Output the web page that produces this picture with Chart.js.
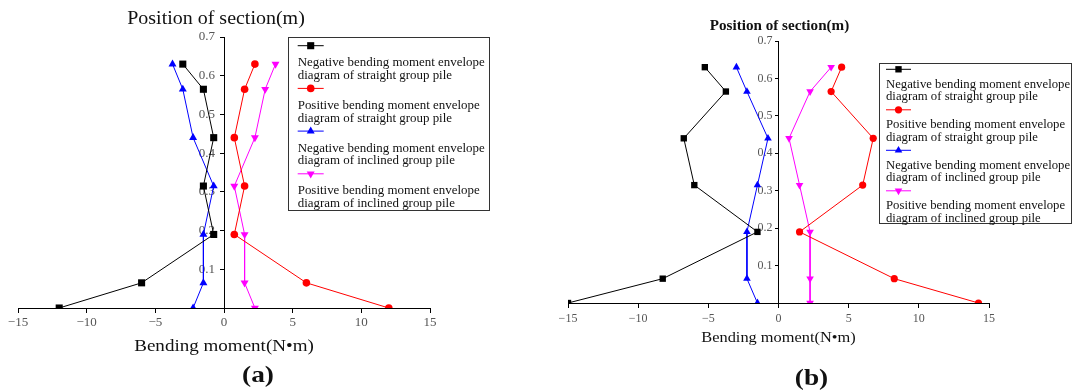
<!DOCTYPE html>
<html>
<head>
<meta charset="utf-8">
<title>Bending moment envelope diagrams</title>
<script src="https://cdn.jsdelivr.net/npm/chart.js@4.4.1/dist/chart.umd.min.js"></script>
<style>
  body { margin: 0; background: #fff; }
  .panel { position: absolute; top: 0; height: 392px; }
  #panelA { left: 0; width: 540px; }
  #panelB { left: 540px; width: 533px; }
</style>
</head>
<body>
<div class="panel" id="panelA"><canvas id="chartA"></canvas></div>
<div class="panel" id="panelB"><canvas id="chartB"></canvas></div>
<script>
// position of the sections (m), from top of the pile down
const sections = [0.63, 0.565, 0.44, 0.315, 0.19, 0.065, 0];
const xTicks = [-15, -10, -5, 0, 5, 10, 15];
const yTicks = [0.1, 0.2, 0.3, 0.4, 0.5, 0.6, 0.7];

// (a) bending moment (N•m)
const negStraightA = [-3, -1.5, -0.75, -1.5, -0.75, -6, -12];
const posStraightA = [2.25, 1.5, 0.75, 1.5, 0.75, 6, 12];
const negInclinedA = [-3.75, -3, -2.25, -0.75, -1.5, -1.5, -2.25];
const posInclinedA = [3.75, 3, 2.25, 0.75, 1.5, 1.5, 2.25];

// (b) bending moment (N•m)
const negStraightB = [-5.25, -3.75, -6.75, -6, -1.5, -8.25, -15];
const posStraightB = [4.5, 3.75, 6.75, 6, 1.5, 8.25, 14.25];
const negInclinedB = [-3, -2.25, -0.75, -1.5, -2.25, -2.25, -1.5];
const posInclinedB = [3.75, 2.25, 0.75, 1.5, 2.25, 2.25, 2.25];

const seriesNames = [
  ["Negative bending moment envelope", "diagram of straight group pile"],
  ["Positive bending moment envelope", "diagram of straight group pile"],
  ["Negative bending moment envelope", "diagram of inclined group pile"],
  ["Positive bending moment envelope", "diagram of inclined group pile"]
];
const seriesColors = ["#000000", "#ff0000", "#0000ff", "#ff00ff"];
const seriesMarkers = ["rect", "circle", "triangle", "triangle"];
const seriesRotation = [0, 0, 0, 180];

const yTitle = "Position of section(m)";
const xTitle = "Bending moment(N\u2022m)";

function toPoints(values) {
  return values.map((v, i) => ({ x: v, y: sections[i] }));
}

function formatX(v) {
  return v < 0 ? "\u2212" + Math.abs(v) : String(v);
}

// draws a text squeezed/stretched horizontally
function wideText(ctx, text, x, y, font, sx, align) {
  ctx.save();
  ctx.font = font;
  ctx.fillStyle = "#111";
  ctx.textAlign = align;
  ctx.textBaseline = "alphabetic";
  ctx.translate(x, y);
  ctx.scale(sx, 1);
  ctx.fillText(text, 0, 0);
  ctx.restore();
}

function drawMarker(ctx, kind, rot, r, x, y, color) {
  ctx.save();
  ctx.fillStyle = color;
  ctx.beginPath();
  if (kind === "rect") {
    const s = r * Math.SQRT1_2;
    ctx.rect(x - s, y - s, 2 * s, 2 * s);
  } else if (kind === "circle") {
    ctx.arc(x, y, r, 0, Math.PI * 2);
  } else {
    const dir = rot === 180 ? -1 : 1;
    const w = r * Math.sin(Math.PI / 3);
    ctx.moveTo(x, y - dir * r);
    ctx.lineTo(x - w, y + dir * r / 2);
    ctx.lineTo(x + w, y + dir * r / 2);
    ctx.closePath();
  }
  ctx.fill();
  ctx.restore();
}

function makeChart(id, values, cfg) {
  const datasets = values.map((vals, i) => ({
    label: seriesNames[i].join(" "),
    data: toPoints(vals),
    showLine: true,
    borderColor: seriesColors[i],
    backgroundColor: seriesColors[i],
    borderWidth: 1,
    pointStyle: seriesMarkers[i],
    rotation: seriesRotation[i],
    pointRadius: seriesMarkers[i] === "rect" ? cfg.rectR : (seriesMarkers[i] === "circle" ? cfg.circR : cfg.triR),
    pointBorderWidth: 0
  }));

  const textPlugin = {
    id: "texts" + id,
    afterDraw(chart) {
      const ctx = chart.ctx;
      const area = chart.chartArea;
      const zeroX = chart.scales.x.getPixelForValue(0);

      wideText(ctx, yTitle, zeroX + cfg.yTitleDx, area.top - cfg.yTitleUp, cfg.yTitleFont, cfg.yTitleSx, "center");
      wideText(ctx, xTitle, zeroX, area.bottom + cfg.xTitleDown, cfg.xTitleFont, cfg.xTitleSx, "center");
      wideText(ctx, cfg.caption, zeroX + cfg.capDx, area.bottom + cfg.capDown, "bold 24px 'Liberation Serif'", 1.14, "center");

      // legend box
      const lg = cfg.legend;
      ctx.save();
      ctx.fillStyle = "#fff";
      ctx.fillRect(lg.x, lg.y, lg.w, lg.h);
      ctx.strokeStyle = "#333";
      ctx.lineWidth = 1;
      ctx.strokeRect(lg.x + 0.5, lg.y + 0.5, lg.w, lg.h);
      ctx.restore();
      seriesNames.forEach((lines, i) => {
        const sy = lg.y + lg.first + i * lg.pitch;
        const x0 = lg.x + lg.inset;
        ctx.save();
        ctx.strokeStyle = seriesColors[i];
        ctx.lineWidth = 1;
        ctx.beginPath();
        ctx.moveTo(x0, sy);
        ctx.lineTo(x0 + lg.lineLen, sy);
        ctx.stroke();
        ctx.restore();
        const r = seriesMarkers[i] === "rect" ? cfg.rectR : (seriesMarkers[i] === "circle" ? cfg.circR : cfg.triR);
        drawMarker(ctx, seriesMarkers[i], seriesRotation[i], r, x0 + lg.lineLen / 2, sy, seriesColors[i]);
        lines.forEach((t, k) => {
          wideText(ctx, t, x0, sy + lg.textDown + k * lg.lineH, lg.font, lg.sx, "left");
        });
      });
    }
  };

  return new Chart(document.getElementById(id), {
    type: "scatter",
    data: { datasets: datasets },
    options: {
      responsive: true,
      maintainAspectRatio: false,
      animation: false,
      layout: { padding: cfg.padding },
      plugins: { legend: { display: false }, tooltip: { enabled: false } },
      scales: {
        x: {
          type: "linear",
          position: "bottom",
          min: -15,
          max: 15,
          afterBuildTicks: s => { s.ticks = xTicks.map(v => ({ value: v })); },
          afterFit: s => { s.height = 30; },
          grid: { drawOnChartArea: false, tickLength: 5, color: "#000" },
          border: { color: "#000", width: 1 },
          ticks: {
            color: "#555",
            padding: cfg.xTickPad,
            maxRotation: 0,
            font: { family: "'Liberation Serif'", size: cfg.tickSize },
            callback: v => formatX(v)
          }
        },
        y: {
          type: "linear",
          position: { x: 0 },
          min: 0,
          max: 0.7,
          afterBuildTicks: s => { s.ticks = yTicks.map(v => ({ value: v })); },
          grid: { drawOnChartArea: false, tickLength: cfg.yTickLen, color: "#000" },
          border: { color: "#000", width: 1 },
          ticks: {
            color: "#555",
            font: { family: "'Liberation Serif'", size: cfg.tickSize },
            // labels of a centred axis sit right on the line, so keep a gap
            callback: v => v.toFixed(1) + cfg.yGap
          }
        }
      }
    },
    plugins: [textPlugin]
  });
}

makeChart("chartA", [negStraightA, posStraightA, negInclinedA, posInclinedA], {
  padding: { left: 18, right: 110, top: 37, bottom: 54 },
  tickSize: 13, xTickPad: 2, yTickLen: 4, yGap: "\u2002\u2009",
  rectR: 5, circR: 3.8, triR: 4.6,
  yTitleFont: "18px 'Liberation Serif'", yTitleSx: 1.11, yTitleDx: -8, yTitleUp: 13,
  xTitleFont: "17px 'Liberation Serif'", xTitleSx: 1.12, xTitleDown: 43,
  caption: "(a)", capDx: 34, capDown: 74,
  legend: { x: 288, y: 37, w: 201, h: 173, first: 8.7, pitch: 42.7, inset: 9.7, lineLen: 26,
            textDown: 20.6, lineH: 12.7, font: "12px 'Liberation Serif'", sx: 1.077 }
});

makeChart("chartB", [negStraightB, posStraightB, negInclinedB, posInclinedB], {
  padding: { left: 28, right: 84, top: 41, bottom: 59 },
  tickSize: 12, xTickPad: 4, yTickLen: 3, yGap: "\u2002",
  rectR: 4.5, circR: 3.6, triR: 4.4,
  yTitleFont: "bold 14px 'Liberation Serif'", yTitleSx: 1.08, yTitleDx: 1, yTitleUp: 11,
  xTitleFont: "14px 'Liberation Serif'", xTitleSx: 1.17, xTitleDown: 39,
  caption: "(b)", capDx: 33, capDown: 82,
  legend: { x: 339, y: 63, w: 192, h: 160, first: 6.3, pitch: 40.5, inset: 7, lineLen: 25,
            textDown: 18.2, lineH: 12.7, font: "12px 'Liberation Serif'", sx: 1.06 }
});
</script>
</body>
</html>
